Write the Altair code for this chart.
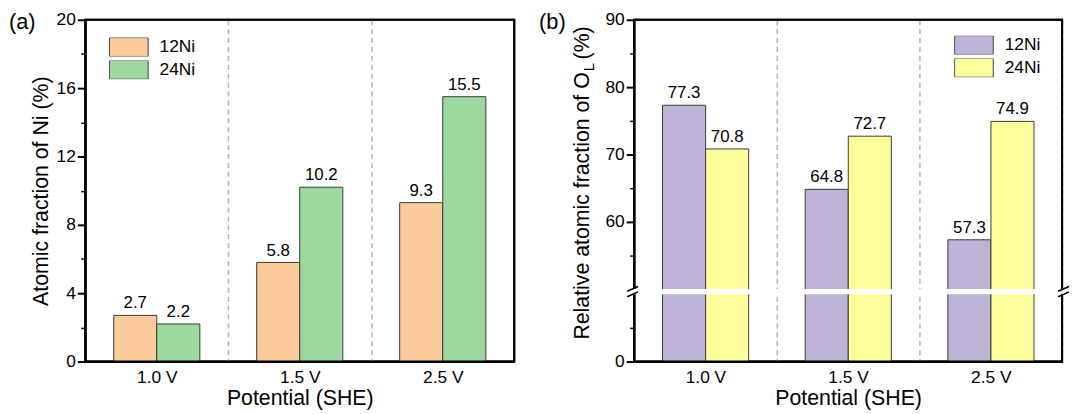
import altair as alt
import pandas as pd

# ---------------- data ----------------
potentials = ["1.0 V", "1.5 V", "2.5 V"]
series = ["12Ni", "24Ni"]
ni_12 = [2.7, 5.8, 9.3]
ni_24 = [2.2, 10.2, 15.5]
ol_12 = [77.3, 64.8, 57.3]
ol_24 = [70.8, 72.7, 74.9]

a_ticks = [0, 4, 8, 12, 16, 20]
a_minor = [2, 6, 10, 14, 18]
b_ticks = [0, 60, 70, 80, 90]
b_minor = [5, 55, 65, 75, 85]

# broken axis for panel (b): lower segment 0..10, upper segment 50..90
LOW_TOP = 10
UP_BOT = 50
GAP = 0.8
SHIFT = UP_BOT - LOW_TOP - GAP


def to_disp(v):
    return v if v <= LOW_TOP else v - SHIFT


B_TOP = to_disp(90)

FONT = "Liberation Sans"
ORANGE, GREEN = "#FBCB9B", "#9DD89E"
PURPLE, YELLOW = "#BEB2D7", "#FDFD9C"
W_A, W_B, H = 433, 432, 345

rows_a = []
rows_b = []
for i, p in enumerate(potentials):
    rows_a.append({"potential": p, "series": "12Ni", "value": ni_12[i]})
    rows_a.append({"potential": p, "series": "24Ni", "value": ni_24[i]})
    rows_b.append({"potential": p, "series": "12Ni", "value": ol_12[i], "disp": to_disp(ol_12[i])})
    rows_b.append({"potential": p, "series": "24Ni", "value": ol_24[i], "disp": to_disp(ol_24[i])})
df_a = pd.DataFrame(rows_a)
df_b = pd.DataFrame(rows_b)


def x_enc():
    return alt.X(
        "potential:N", sort=potentials,
        scale=alt.Scale(paddingInner=0, paddingOuter=0),
        axis=alt.Axis(title="Potential (SHE)", labelAngle=0, ticks=False,
                      labelPadding=7, titlePadding=2, grid=True, tickBand="extent",
                      gridColor="#b4b4b4", gridDash=[5, 4], gridWidth=1.5,
                      domainColor="black", domainWidth=2,
                      labelFontSize=17.5, titleFontSize=21.5,
                      labelColor="black", titleColor="black", titleFontWeight="normal"))


def xoff_enc():
    return alt.XOffset("series:N", sort=series,
                       scale=alt.Scale(paddingInner=0, paddingOuter=0.66))


def legend(lx, ly):
    return alt.Legend(title=None, orient="none", legendX=lx, legendY=ly,
                      symbolType="M-1,-0.487H1V0.487H-1Z", symbolSize=1521,
                      symbolStrokeColor="#444444", symbolStrokeWidth=1,
                      symbolOpacity=1, labelFontSize=17.5, labelColor="black",
                      labelOffset=11, clipHeight=19, rowPadding=4, padding=0)


def frame(w):
    return alt.Chart(pd.DataFrame({"f": [0]})).mark_rect(
        fillOpacity=0, stroke="black", strokeWidth=2).encode(
        x=alt.value(0), x2=alt.value(w), y=alt.value(0), y2=alt.value(H))


# ---------------- panel (a) ----------------
sc_a = alt.Scale(domain=[0, 20], nice=False, zero=True)
bars_a = alt.Chart(df_a).mark_bar(stroke="#3a3a3a", strokeWidth=1).encode(
    x=x_enc(), xOffset=xoff_enc(),
    y=alt.Y("value:Q", scale=sc_a,
            axis=alt.Axis(values=a_ticks, tickSize=8, tickWidth=2, tickColor="black",
                          labelPadding=2, labelFontSize=17.5, labelColor="black",
                          domainColor="black", domainWidth=2, grid=False,
                          title="Atomic fraction of Ni (%)", titleFontSize=21.5,
                          titleColor="black", titleFontWeight="normal", titlePadding=4)),
    color=alt.Color("series:N", sort=series,
                    scale=alt.Scale(domain=series, range=[ORANGE, GREEN]),
                    legend=legend(24, 18)),
)
text_a = alt.Chart(df_a).mark_text(baseline="bottom", dy=-3, fontSize=17, color="black").encode(
    x=x_enc(), xOffset=xoff_enc(),
    y=alt.Y("value:Q", scale=sc_a, axis=None),
    text=alt.Text("value:Q", format=".1f"),
)
minor_a = alt.Chart(pd.DataFrame({"m": a_minor})).mark_point(opacity=0).encode(
    y=alt.Y("m:Q", scale=sc_a,
            axis=alt.Axis(orient="left", values=a_minor, labels=False, tickSize=4.5,
                          tickWidth=1.5, tickColor="black", domain=False, grid=False,
                          title=None)),
)
tag_a = alt.Chart(pd.DataFrame({"t": ["(a)"]})).mark_text(
    align="left", baseline="top", fontSize=22, color="black").encode(
    x=alt.value(-77), y=alt.value(-8), text="t:N")

panel_a = alt.layer(bars_a, text_a, minor_a, frame(W_A), tag_a).resolve_axis(
    y="independent").properties(width=W_A, height=H)

# ---------------- panel (b) ----------------
sc_b = alt.Scale(domain=[0, B_TOP], nice=False, zero=True)
label_expr = f"datum.value < 1 ? '0' : format(datum.value + {SHIFT}, '.0f')"
bars_b = alt.Chart(df_b).mark_bar(stroke="#3a3a3a", strokeWidth=1).encode(
    x=x_enc(), xOffset=xoff_enc(),
    y=alt.Y("disp:Q", scale=sc_b,
            axis=alt.Axis(values=[to_disp(v) for v in b_ticks], labelExpr=label_expr,
                          tickSize=8, tickWidth=2, tickColor="black",
                          labelPadding=2, labelFontSize=17.5, labelColor="black",
                          domainColor="black", domainWidth=2, grid=False, title=None)),
    color=alt.Color("series:N", sort=series,
                    scale=alt.Scale(domain=series, range=[PURPLE, YELLOW]),
                    legend=legend(323, 16)),
)
text_b = alt.Chart(df_b).mark_text(baseline="bottom", dy=-3, fontSize=17, color="black").encode(
    x=x_enc(), xOffset=xoff_enc(),
    y=alt.Y("disp:Q", scale=sc_b, axis=None),
    text=alt.Text("value:Q", format=".1f"),
)
minor_b = alt.Chart(pd.DataFrame({"m": [to_disp(v) for v in b_minor]})).mark_point(opacity=0).encode(
    y=alt.Y("m:Q", scale=sc_b,
            axis=alt.Axis(orient="left", values=[to_disp(v) for v in b_minor], labels=False,
                          tickSize=4.5, tickWidth=1.5, tickColor="black", domain=False,
                          grid=False, title=None)),
)
brk = pd.DataFrame({"y0": [LOW_TOP], "y1": [LOW_TOP + GAP]})
band_b = alt.Chart(brk).mark_rect(color="white").encode(
    x=alt.value(-9), x2=alt.value(W_B + 9),
    y=alt.Y("y0:Q", scale=sc_b, axis=None), y2="y1:Q")
slash = pd.DataFrame({"c": [LOW_TOP, LOW_TOP + GAP]})
slash["ya"] = slash["c"] - 0.36
slash["yb"] = slash["c"] + 0.36
slash_l = alt.Chart(slash).mark_rule(color="black", strokeWidth=1.6).encode(
    x=alt.value(-7), x2=alt.value(4),
    y=alt.Y("ya:Q", scale=sc_b, axis=None), y2="yb:Q")
slash_r = alt.Chart(slash).mark_rule(color="black", strokeWidth=1.6).encode(
    x=alt.value(W_B - 4), x2=alt.value(W_B + 7),
    y=alt.Y("ya:Q", scale=sc_b, axis=None), y2="yb:Q")

ttl = pd.DataFrame({"t": ["Relative atomic fraction of O"], "s": ["L"], "p": ["(%)"]})
title_main = alt.Chart(ttl).mark_text(
    align="right", baseline="alphabetic", angle=270, fontSize=21.5, color="black").encode(
    x=alt.value(-46), y=alt.value(53), text="t:N")
title_sub = alt.Chart(ttl).mark_text(
    align="left", baseline="alphabetic", angle=270, fontSize=15, color="black").encode(
    x=alt.value(-40), y=alt.value(52), text="s:N")
title_pct = alt.Chart(ttl).mark_text(
    align="left", baseline="alphabetic", angle=270, fontSize=21.5, color="black").encode(
    x=alt.value(-46), y=alt.value(40), text="p:N")
tag_b = alt.Chart(pd.DataFrame({"t": ["(b)"]})).mark_text(
    align="left", baseline="top", fontSize=22, color="black").encode(
    x=alt.value(-96), y=alt.value(-8), text="t:N")

panel_b = alt.layer(bars_b, text_b, minor_b, frame(W_B), band_b, slash_l, slash_r,
                    title_main, title_sub, title_pct, tag_b).resolve_axis(
    y="independent").properties(width=W_B, height=H)

chart = alt.hconcat(panel_a, panel_b, spacing=22).resolve_scale(
    color="independent").properties(
    padding={"left": 0, "top": 0, "right": 0, "bottom": 0}
).configure(font=FONT).configure_view(
    stroke="black", strokeWidth=2
).configure_axis(labelFont=FONT, titleFont=FONT).configure_legend(
    labelFont=FONT).configure_text(font=FONT)

chart.save("out.html", embed_options={"renderer": "svg", "actions": False})
